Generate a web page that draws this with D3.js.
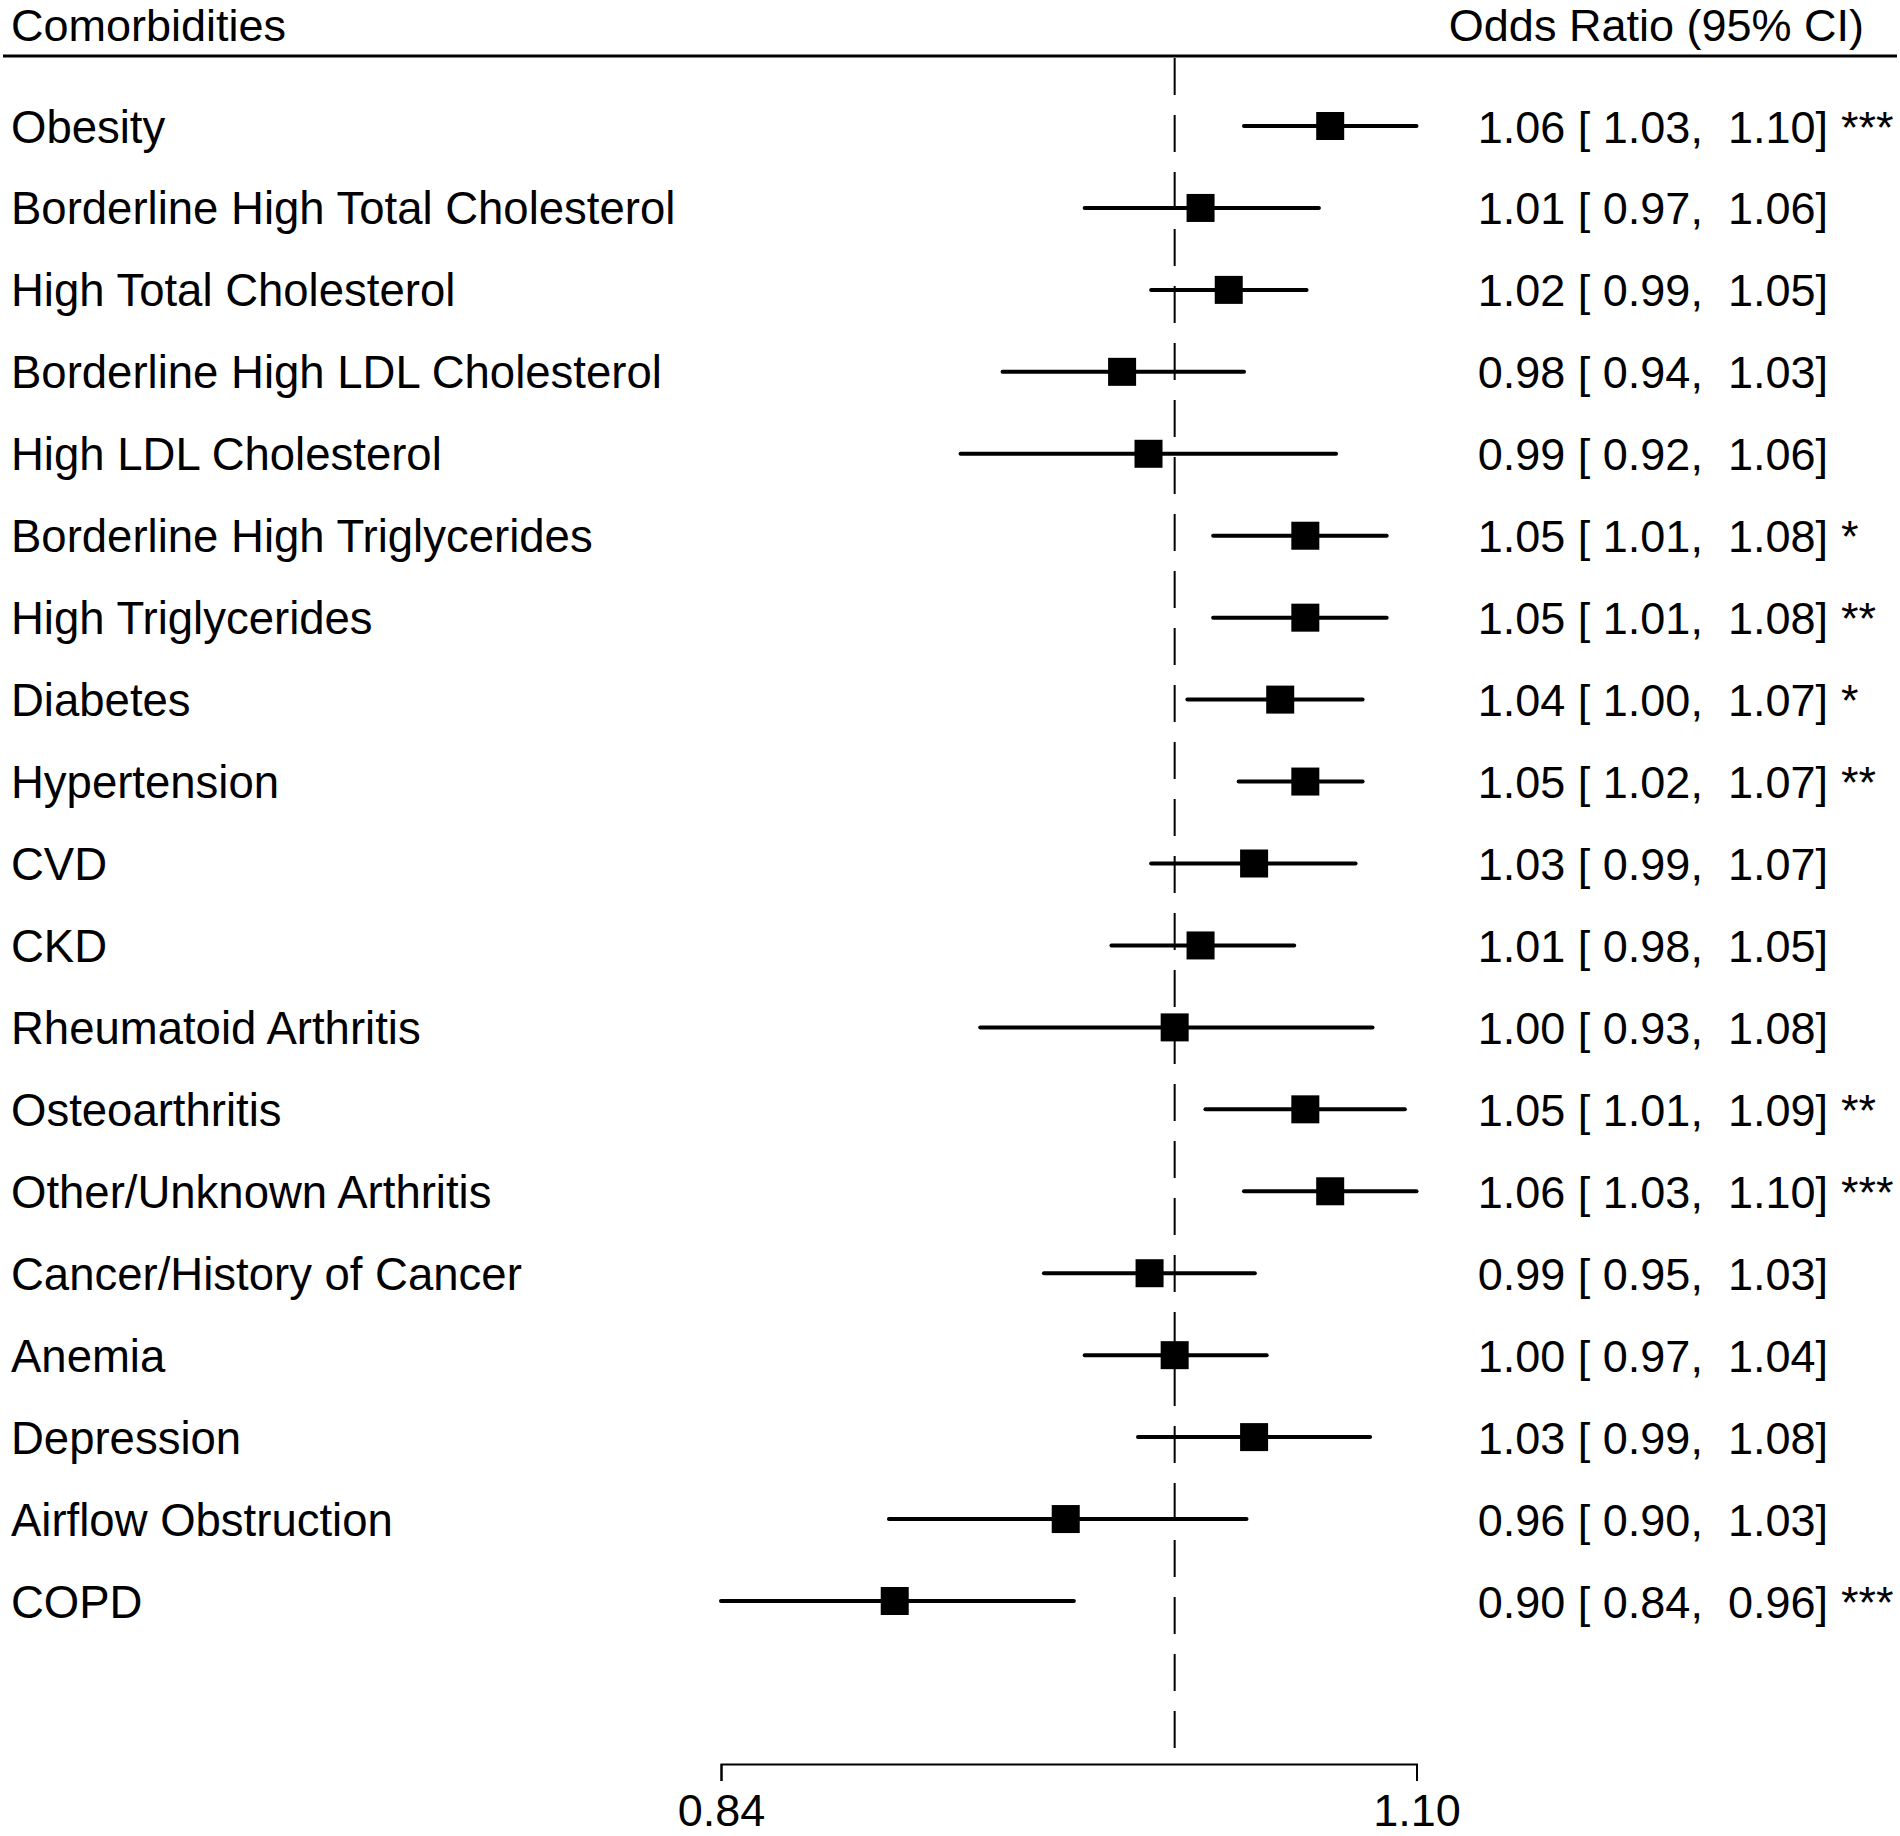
<!DOCTYPE html>
<html>
<head>
<meta charset="utf-8">
<script src="https://cdn.jsdelivr.net/npm/d3@7"></script>
<style>
  html, body { margin: 0; padding: 0; background: #fff; }
  svg { display: block; }
  text { font-family: "Liberation Sans", Arial, sans-serif; fill: #000; white-space: pre; }
</style>
</head>
<body>
<svg id="chart" width="1900" height="1836"></svg>
<script>
// ---------------- DATA ----------------
const categories = [
  "Obesity",
  "Borderline High Total Cholesterol",
  "High Total Cholesterol",
  "Borderline High LDL Cholesterol",
  "High LDL Cholesterol",
  "Borderline High Triglycerides",
  "High Triglycerides",
  "Diabetes",
  "Hypertension",
  "CVD",
  "CKD",
  "Rheumatoid Arthritis",
  "Osteoarthritis",
  "Other/Unknown Arthritis",
  "Cancer/History of Cancer",
  "Anemia",
  "Depression",
  "Airflow Obstruction",
  "COPD"
];
const estimates = [1.0616, 1.010, 1.021, 0.980, 0.990, 1.0515, 1.0515, 1.0414, 1.0515, 1.031, 1.010, 1.000, 1.0515, 1.0616, 0.9904, 1.000, 1.031, 0.959, 0.898];
const lowerCI   = [1.027, 0.966, 0.991, 0.936, 0.921, 1.0149, 1.0149, 1.0049, 1.0249, 0.991, 0.976, 0.928, 1.0119, 1.027, 0.951, 0.966, 0.986, 0.896, 0.840];
const upperCI   = [1.0974, 1.057, 1.052, 1.027, 1.064, 1.0849, 1.0849, 1.0749, 1.0749, 1.072, 1.047, 1.079, 1.0925, 1.0974, 1.0313, 1.036, 1.078, 1.028, 0.962];
const significance = ["***", "", "", "", "", "*", "**", "*", "**", "", "", "", "**", "***", "", "", "", "", "***"];
const axisTicks = [0.84, 1.0974];
const refValue = 1;
const leftHeader = "Comorbidities";
const rightHeader = "Odds Ratio (95% CI)";

// ---------------- LAYOUT ----------------
const svg = d3.select("#chart");
const fontSize = 45;
const labelFontSize = 45.5;
const fmt = d3.format(".2f");

const x = d3.scaleLog()
  .domain([d3.min(lowerCI), d3.max(upperCI)])
  .range([721, 1416.5]);

const y = d3.scalePoint()
  .domain(categories)
  .range([126, 1601]);

const axisY = 1764;

// header
svg.append("text")
  .attr("x", 11).attr("y", 41)
  .attr("font-size", fontSize)
  .text(leftHeader);
svg.append("text")
  .attr("x", 1864).attr("y", 41)
  .attr("text-anchor", "end")
  .attr("font-size", fontSize)
  .text(rightHeader);
svg.append("line")
  .attr("x1", 3).attr("x2", 1897)
  .attr("y1", 56).attr("y2", 56)
  .attr("stroke", "#000").attr("stroke-width", 3);

// reference line
svg.append("line")
  .attr("x1", x(refValue)).attr("x2", x(refValue))
  .attr("y1", 58).attr("y2", axisY)
  .attr("stroke", "#000").attr("stroke-width", 2)
  .attr("stroke-dasharray", "37,20");

const rows = categories.map((c, i) => ({
  name: c, est: estimates[i], lo: lowerCI[i], hi: upperCI[i], sig: significance[i]
}));

const g = svg.append("g");
const row = g.selectAll("g.row").data(rows).join("g").attr("class", "row");

// labels
row.append("text")
  .attr("x", 11)
  .attr("y", d => y(d.name) + 16.5)
  .attr("font-size", labelFontSize)
  .text(d => d.name);

// CI lines
row.append("line")
  .attr("x1", d => x(d.lo)).attr("x2", d => x(d.hi))
  .attr("y1", d => y(d.name)).attr("y2", d => y(d.name))
  .attr("stroke", "#000").attr("stroke-width", 4)
  .attr("stroke-linecap", "round");

// squares
const sqW = 28, sqH = 28;
row.append("rect")
  .attr("x", d => x(d.est) - sqW / 2)
  .attr("y", d => y(d.name) - sqH / 2)
  .attr("width", sqW).attr("height", sqH)
  .attr("fill", "#000");

// annotations
row.append("text")
  .attr("x", 1828)
  .attr("y", d => y(d.name) + 16.5)
  .attr("text-anchor", "end")
  .attr("font-size", fontSize)
  .text(d => `${fmt(d.est)} [ ${fmt(d.lo)},  ${fmt(d.hi)}]`);

row.append("text")
  .attr("x", 1841)
  .attr("y", d => y(d.name) + 16.5)
  .attr("font-size", fontSize)
  .text(d => d.sig);

// axis
const axis = d3.axisBottom(x)
  .tickValues(axisTicks)
  .tickFormat(fmt)
  .tickSize(17)
  .tickSizeOuter(17)
  .tickPadding(0);

const ag = svg.append("g")
  .attr("transform", `translate(0,${axisY})`)
  .call(axis);
ag.selectAll("path, line").attr("stroke", "#000").attr("stroke-width", 2);
ag.selectAll("text")
  .attr("y", 1826 - axisY)
  .attr("dy", null)
  .attr("font-size", fontSize)
  .attr("font-family", "'Liberation Sans', Arial, sans-serif")
  .attr("fill", "#000");
</script>
</body>
</html>
